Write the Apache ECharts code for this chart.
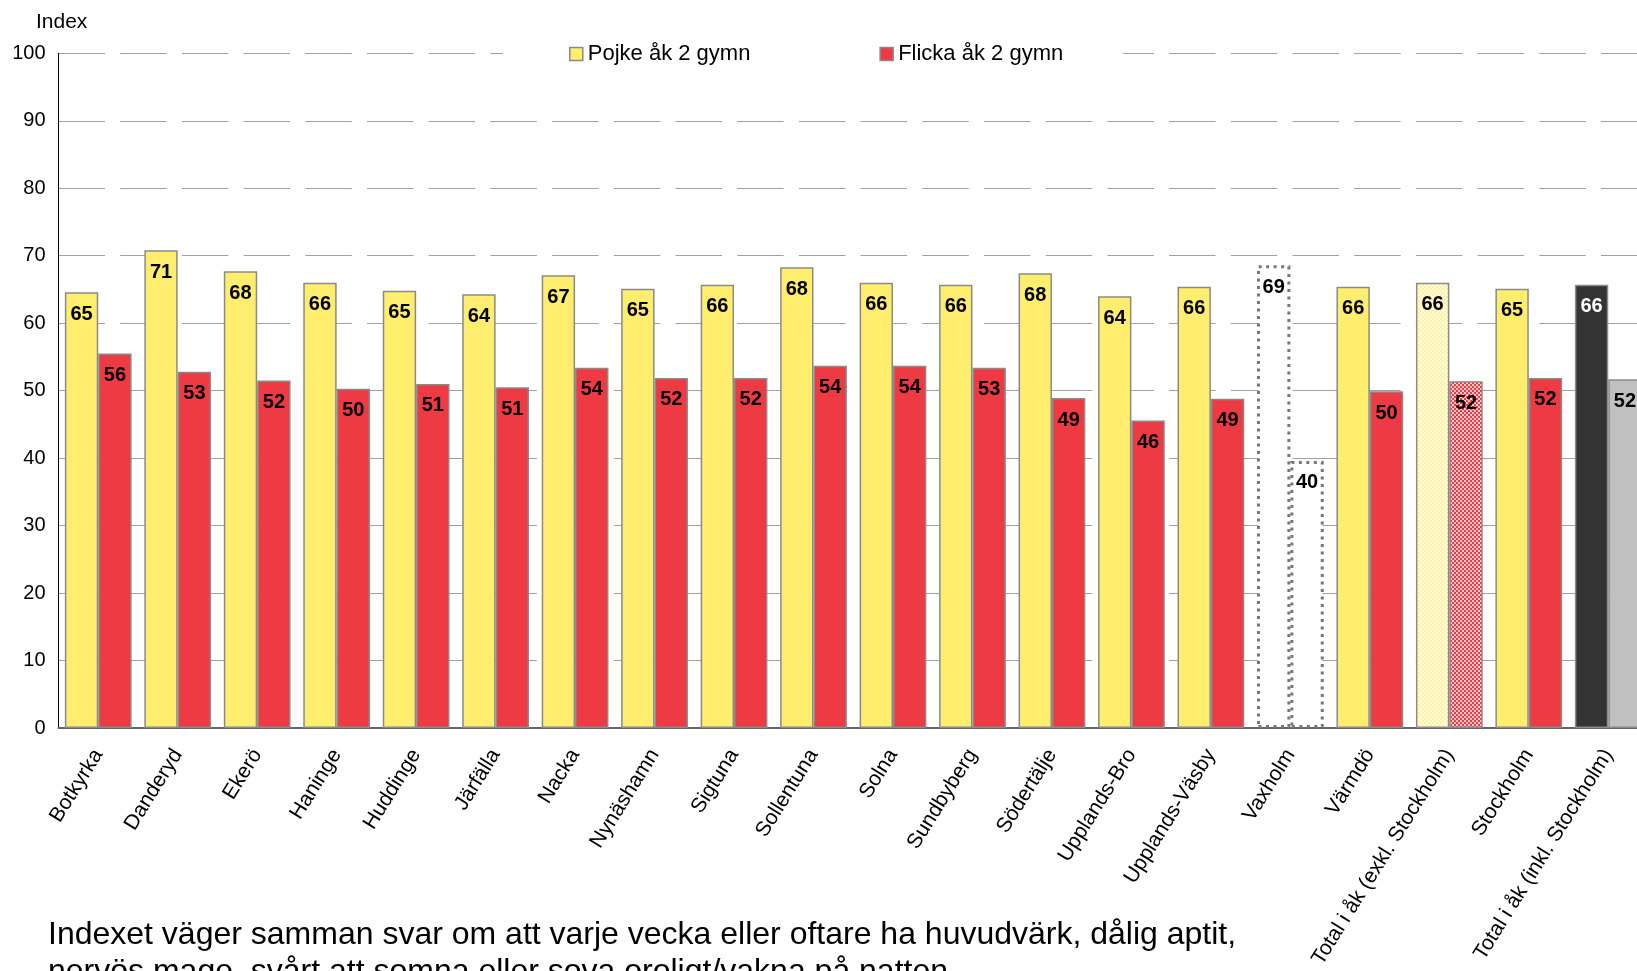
<!DOCTYPE html>
<html>
<head>
<meta charset="utf-8">
<script src="https://cdn.jsdelivr.net/npm/echarts@6/dist/echarts.min.js"></script>
<style>
  html, body { margin: 0; padding: 0; background: #fff; overflow: hidden; }
  /* the plot runs a little past the right edge, as in the original */
  #chart { width: 1648px; height: 971px; }
</style>
</head>
<body>
<div id="chart"></div>
<script>
// kommuner / grupper
var categories = ['Botkyrka', 'Danderyd', 'Ekerö', 'Haninge', 'Huddinge', 'Järfälla', 'Nacka',
  'Nynäshamn', 'Sigtuna', 'Sollentuna', 'Solna', 'Sundbyberg', 'Södertälje', 'Upplands-Bro',
  'Upplands-Väsby', 'Vaxholm', 'Värmdö', 'Total i åk (exkl. Stockholm)', 'Stockholm',
  'Total i åk (inkl. Stockholm)'];
// index
var pojke = [64.6, 70.8, 67.7, 66.0, 64.8, 64.3, 67.1, 65.1, 65.7, 68.3, 66.0, 65.7, 67.4, 64.0, 65.4, 68.6, 65.4, 66.0, 65.1, 65.7];
var flicka = [55.5, 52.8, 51.5, 50.3, 51.0, 50.5, 53.4, 51.9, 51.9, 53.7, 53.7, 53.4, 48.9, 45.6, 48.8, 39.6, 49.9, 51.4, 51.9, 51.7];
// printed value labels
var pojkeLabels = [65, 71, 68, 66, 65, 64, 67, 65, 66, 68, 66, 66, 68, 64, 66, 69, 66, 66, 65, 66];
var flickaLabels = [56, 53, 52, 50, 51, 51, 54, 52, 52, 54, 54, 53, 49, 46, 49, 40, 50, 52, 52, 52];
var yTicks = [0, 10, 20, 30, 40, 50, 60, 70, 80, 90, 100];

var FONT = "'Liberation Sans', Arial, sans-serif";
var YELLOW = '#FFEE6E';
var RED = '#EE3B43';
var BORDER = '#8a8a8a';

function checker(c1, c2, s) {
  var cv = document.createElement('canvas');
  cv.width = cv.height = s * 2;
  var ctx = cv.getContext('2d');
  ctx.fillStyle = c1;
  ctx.fillRect(0, 0, s * 2, s * 2);
  ctx.fillStyle = c2;
  ctx.fillRect(0, 0, s, s);
  ctx.fillRect(s, s, s, s);
  return { image: cv, repeat: 'repeat' };
}

var vaxStyle = { color: '#fff', borderColor: '#777', borderWidth: 3, borderType: [3, 4.5] };

function buildData(vals, isBoy) {
  return vals.map(function (v, i) {
    if (i === 15) return { value: v, itemStyle: vaxStyle };
    if (i === 17) return { value: v, itemStyle: { color: isBoy ? checker('#FFF29A', '#FFFCE6', 2) : checker('#EE3B43', '#FCCACA', 2) } };
    if (i === 19) return { value: v, itemStyle: { color: isBoy ? '#333333' : '#C0C0C0' }, label: { color: isBoy ? '#fff' : '#000' } };
    return v;
  });
}

var myChart = echarts.init(document.getElementById('chart'));
var labelBase = {
  show: true, position: 'insideTop', distance: 12,
  fontFamily: FONT, fontSize: 20, fontWeight: 'bold', color: '#000'
};

var option = {
  animation: false,
  backgroundColor: '#fff',
  textStyle: { fontFamily: FONT },
  grid: { left: 58.5, top: 53.3, right: 0, bottom: 242, containLabel: false },
  legend: {
    left: 503, top: 37,
    padding: [6, 60, 6, 66],
    backgroundColor: '#fff',
    itemGap: 129, itemWidth: 13, itemHeight: 13,
    icon: 'rect',
    textStyle: { fontFamily: FONT, fontSize: 22, color: '#000' },
    itemStyle: { borderColor: BORDER, borderWidth: 1.5 },
    data: ['Pojke åk 2 gymn', 'Flicka åk 2 gymn']
  },
  xAxis: {
    type: 'category',
    data: categories,
    axisTick: { show: false },
    axisLine: { lineStyle: { color: '#666', width: 2 } },
    axisLabel: {
      interval: 0, rotate: 58, margin: 23,
      fontFamily: FONT, fontSize: 21, color: '#000'
    }
  },
  yAxis: {
    type: 'value', min: 0, max: 100, interval: 10,
    axisLine: { show: true, lineStyle: { color: '#000', width: 1 } },
    axisTick: { show: false },
    axisLabel: {
      margin: 13, fontFamily: FONT, fontSize: 20, color: '#000',
      formatter: function (v) { return yTicks.indexOf(v) >= 0 ? String(v) : ''; }
    },
    splitLine: { lineStyle: { color: '#a0a0a0', width: 1, type: [46.5, 15.2] } }
  },
  series: [
    {
      name: 'Pojke åk 2 gymn', type: 'bar',
      barGap: '0%', barCategoryGap: '16%',
      itemStyle: { color: YELLOW, borderColor: BORDER, borderWidth: 1.5 },
      label: Object.assign({}, labelBase, { formatter: function (p) { return pojkeLabels[p.dataIndex]; } }),
      data: buildData(pojke, true)
    },
    {
      name: 'Flicka åk 2 gymn', type: 'bar',
      barGap: '0%', barCategoryGap: '16%',
      itemStyle: { color: RED, borderColor: BORDER, borderWidth: 1.5 },
      label: Object.assign({}, labelBase, { formatter: function (p) { return flickaLabels[p.dataIndex]; } }),
      data: buildData(flicka, false)
    }
  ],
  graphic: [
    {
      type: 'text', left: 36, top: 12,
      style: { text: 'Index', fontFamily: FONT, fontSize: 21, fill: '#000' }
    },
    {
      type: 'text', left: 48, top: 917,
      style: {
        text: 'Indexet väger samman svar om att varje vecka eller oftare ha huvudvärk, dålig aptit,\nnervös mage, svårt att somna eller sova oroligt/vakna på natten.',
        fontFamily: FONT, fontSize: 32, lineHeight: 37, fill: '#000'
      }
    }
  ]
};
myChart.setOption(option);
</script>
</body>
</html>
